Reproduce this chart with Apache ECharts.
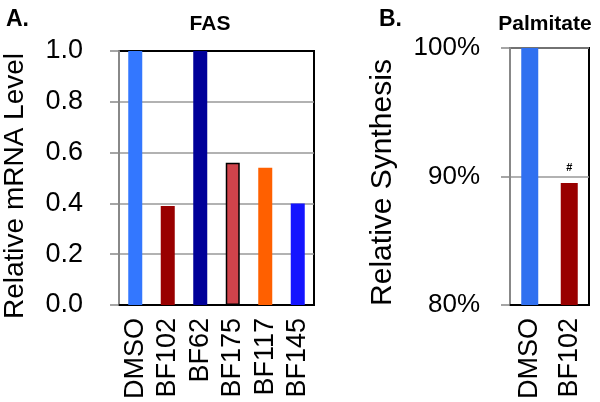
<!DOCTYPE html>
<html>
<head>
<meta charset="utf-8">
<script src="https://cdn.jsdelivr.net/npm/echarts@6/dist/echarts.min.js"></script>
<style>
  html, body { margin: 0; padding: 0; background: #fff; }
  #chart { width: 600px; height: 402px; }
</style>
</head>
<body>
<div id="chart"></div>
<script>
/* 数据 */
const fasCategories = ['DMSO', 'BF102', 'BF62', 'BF175', 'BF117', 'BF145'];
const fasValues = [1.0, 0.39, 1.0, 0.56, 0.54, 0.40];
const fasTicks = [0, 0.2, 0.4, 0.6, 0.8, 1.0];

const palmCategories = ['DMSO', 'BF102'];
const palmValues = [100, 89.5];
const palmMarks = ['', '#'];
const palmTicks = [80, 90, 100];

/* 颜色 */
const fasColors = ['#3377ff', '#990000', '#000099', '#d0434b', '#ff6000', '#1414ff'];
const palmColors = ['#3070f0', '#990000'];

const chart = echarts.init(document.getElementById('chart'));
const font = 'Liberation Sans, Arial, sans-serif';

chart.setOption({
  animation: false,
  textStyle: { fontFamily: font },
  title: [
    { text: 'A.', left: 1, top: 3, textStyle: { fontSize: 23, fontWeight: 'bold', color: '#000' } },
    { text: 'FAS', left: 205, top: 9, textAlign: 'center', textStyle: { fontSize: 21, fontWeight: 'bold', color: '#000' } },
    { text: 'B.', left: 374, top: 3, textStyle: { fontSize: 23, fontWeight: 'bold', color: '#000' } },
    { text: 'Palmitate', left: 540, top: 9, textAlign: 'center', textStyle: { fontSize: 21, fontWeight: 'bold', color: '#000' } }
  ],
  grid: [
    { left: 110, top: 51, width: 204, height: 254, show: true, borderColor: '#000', borderWidth: 2 },
    { left: 510, top: 48, width: 79, height: 257, show: true, borderColor: '#000', borderWidth: 2 }
  ],
  xAxis: [
    {
      gridIndex: 0, type: 'category', data: fasCategories,
      axisLine: { lineStyle: { color: '#000', width: 2 } },
      axisTick: { show: false },
      axisLabel: { rotate: 90, fontSize: 27, color: '#000', margin: 13, interval: 0 }
    },
    {
      gridIndex: 1, type: 'category', data: palmCategories,
      axisLine: { lineStyle: { color: '#000', width: 2 } },
      axisTick: { show: false },
      axisLabel: { rotate: 90, fontSize: 27, color: '#000', margin: 13, interval: 0 }
    }
  ],
  yAxis: [
    {
      gridIndex: 0, type: 'value',
      min: fasTicks[0], max: fasTicks[fasTicks.length - 1], interval: 0.2,
      name: 'Relative mRNA Level', nameLocation: 'middle', nameGap: 90,
      nameTextStyle: { fontSize: 28, color: '#000', padding: [0, 16, 0, 0] },
      axisLine: { show: true, lineStyle: { color: '#888', width: 2 } },
      axisTick: { show: true, length: 9, lineStyle: { color: '#888', width: 1.5 } },
      axisLabel: { fontSize: 27, color: '#000', margin: 36, formatter: v => v.toFixed(1) },
      splitLine: { lineStyle: { color: ['#000', '#999', '#999', '#999', '#999', '#000'], width: 1.5 } }
    },
    {
      gridIndex: 1, type: 'value',
      min: palmTicks[0], max: palmTicks[palmTicks.length - 1], interval: 10,
      name: 'Relative Synthesis', nameLocation: 'middle', nameGap: 112,
      nameTextStyle: { fontSize: 30, color: '#000', padding: [0, 12, 0, 0] },
      axisLine: { show: true, lineStyle: { color: '#888', width: 2 } },
      axisTick: { show: true, length: 9, lineStyle: { color: '#888', width: 1.5 } },
      axisLabel: { fontSize: 26, color: '#000', margin: 30, formatter: '{value}%' },
      splitLine: { lineStyle: { color: ['#000', '#999', '#999'], width: 1.5 } }
    }
  ],
  series: [
    {
      type: 'bar', xAxisIndex: 0, yAxisIndex: 0, barWidth: 14,
      data: fasValues.map((v, i) => ({
        value: v,
        itemStyle: {
          color: fasColors[i],
          borderColor: fasCategories[i] === 'BF175' ? '#000' : fasColors[i],
          borderWidth: fasCategories[i] === 'BF175' ? 1.5 : 0
        }
      }))
    },
    {
      type: 'bar', xAxisIndex: 1, yAxisIndex: 1, barWidth: 17,
      data: palmValues.map((v, i) => ({
        value: v,
        itemStyle: { color: palmColors[i] },
        label: {
          show: palmMarks[i] !== '', position: 'top', distance: 9,
          formatter: palmMarks[i], fontSize: 11, fontWeight: 'bold', color: '#000'
        }
      }))
    }
  ]
});
</script>
</body>
</html>
